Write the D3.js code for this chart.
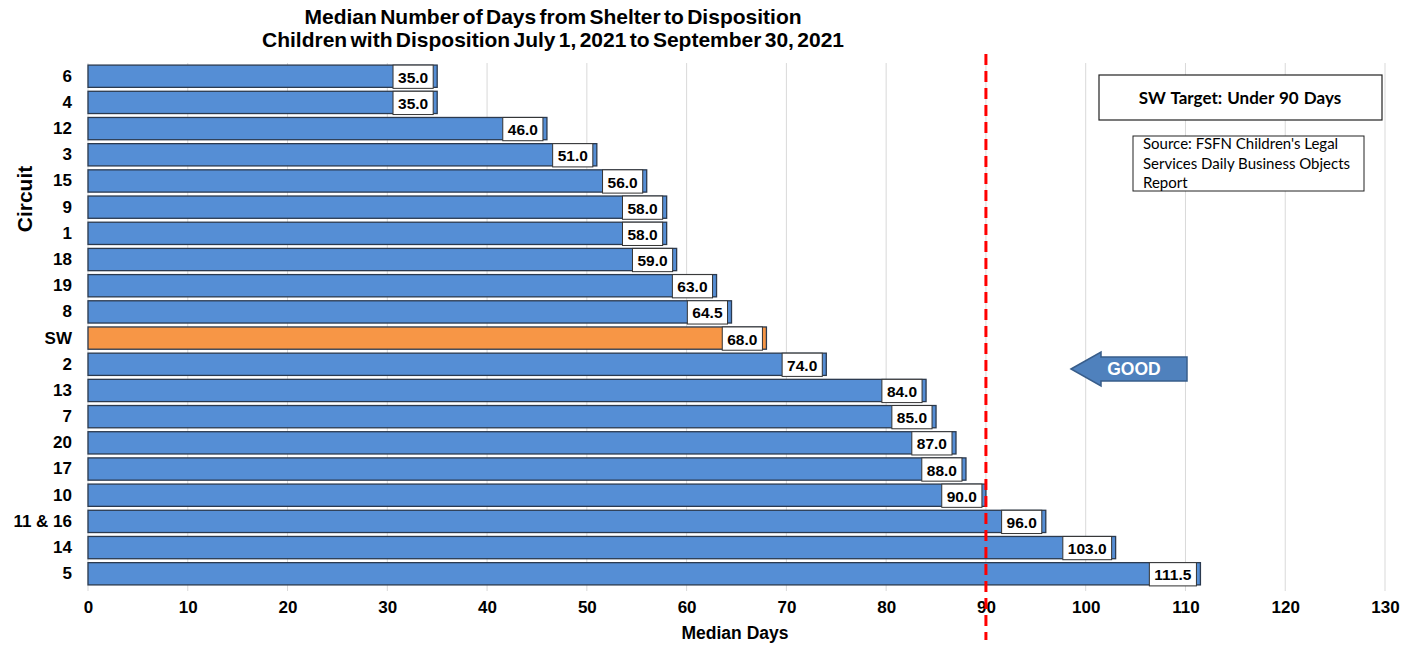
<!DOCTYPE html>
<html>
<head>
<meta charset="utf-8">
<script src="https://cdn.jsdelivr.net/npm/d3@7"></script>
<style>
  body { margin: 0; background: #fff; }
  svg { display: block; }
</style>
</head>
<body>
<svg id="chart" width="1416" height="646"></svg>
<script>
// Circuits, top to bottom, with median days from shelter to disposition
const circuits = ["6", "4", "12", "3", "15", "9", "1", "18", "19", "8", "SW", "2", "13", "7", "20", "17", "10", "11 & 16", "14", "5"];
const medianDays = [35.0, 35.0, 46.0, 51.0, 56.0, 58.0, 58.0, 59.0, 63.0, 64.5, 68.0, 74.0, 84.0, 85.0, 87.0, 88.0, 90.0, 96.0, 103.0, 111.5];
const xTicks = [0, 10, 20, 30, 40, 50, 60, 70, 80, 90, 100, 110, 120, 130];
const targetDays = 90;
const statewide = "SW";

const svg = d3.select("#chart");
const margin = { left: 88, right: 31, top: 63, bottom: 59 };
const W = 1416, H = 646;

const x = d3.scaleLinear().domain([0, 130]).range([margin.left, W - margin.right]);
const y = d3.scaleBand().domain(circuits).range([margin.top, H - margin.bottom]).paddingInner(0.15).paddingOuter(0.08);

const font = "'Liberation Sans', Arial, sans-serif";

// vertical gridlines
svg.append("g").selectAll("line").data(xTicks).join("line")
  .attr("x1", d => x(d)).attr("x2", d => x(d))
  .attr("y1", margin.top).attr("y2", H - margin.bottom + 4)
  .attr("stroke", "#d9d9d9").attr("stroke-width", 1);

// x axis tick labels
const xAxis = d3.axisBottom(x).tickValues(xTicks).tickSize(0).tickPadding(14).tickFormat(d3.format("d"));
svg.append("g").attr("transform", `translate(0,${H - margin.bottom})`).call(xAxis)
  .call(g => g.select(".domain").remove())
  .call(g => g.selectAll("text").attr("font-family", font).attr("font-weight", "bold").attr("font-size", 17).attr("fill", "#000"));

// y axis category labels
const yAxis = d3.axisLeft(y).tickSize(0).tickPadding(16);
svg.append("g").attr("transform", `translate(${margin.left},0)`).call(yAxis)
  .call(g => g.select(".domain").remove())
  .call(g => g.selectAll("text").attr("font-family", font).attr("font-weight", "bold").attr("font-size", 17).attr("fill", "#000"));

// bars
const rows = circuits.map((c, i) => ({ c, v: medianDays[i] }));
svg.append("g").selectAll("rect").data(rows).join("rect")
  .attr("x", x(0)).attr("y", d => y(d.c))
  .attr("width", d => x(d.v) - x(0)).attr("height", y.bandwidth())
  .attr("fill", d => d.c === statewide ? "#f79646" : "#558ed5")
  .attr("stroke", "#2b3a4f").attr("stroke-width", 1.3);

// value labels in white boxes at bar ends
const lbl = svg.append("g").selectAll("g").data(rows).join("g");
lbl.each(function (d) {
  const g = d3.select(this);
  const txt = d.v.toFixed(1);
  const t = g.append("text").attr("text-anchor", "middle").attr("font-family", font).attr("font-weight", "bold")
    .attr("font-size", 15.5).attr("fill", "#000").text(txt);
  const tw = t.node().getComputedTextLength();
  const bw = tw + 10;
  const bh = y.bandwidth() + 1;
  const right = x(d.v) - 4;
  const cy = y(d.c) + y.bandwidth() / 2;
  g.insert("rect", "text").attr("x", right - bw).attr("y", cy - bh / 2 + 0.5).attr("width", bw).attr("height", bh)
    .attr("fill", "#fff").attr("stroke", "#333").attr("stroke-width", 1);
  t.attr("x", right - bw / 2).attr("y", cy + 1).attr("dy", "0.36em");
});

// target line
svg.append("line")
  .attr("x1", x(targetDays)).attr("x2", x(targetDays))
  .attr("y1", 54).attr("y2", 640)
  .attr("stroke", "#ff0000").attr("stroke-width", 3).attr("stroke-dasharray", "11,6");

// title
const title = svg.append("text").attr("text-anchor", "middle").attr("font-family", font)
  .attr("font-weight", "bold").attr("font-size", 21).attr("word-spacing", -2.5).attr("fill", "#000");
title.append("tspan").attr("x", 553).attr("y", 24).text("Median Number of Days from Shelter to Disposition");
title.append("tspan").attr("x", 553).attr("y", 47).text("Children with Disposition July 1, 2021 to September 30, 2021");

// axis titles
svg.append("text").attr("x", 735).attr("y", 639).attr("text-anchor", "middle")
  .attr("font-family", font).attr("font-weight", "bold").attr("font-size", 17.5).text("Median Days");
svg.append("text").attr("transform", "translate(32,199) rotate(-90)").attr("text-anchor", "middle")
  .attr("font-family", font).attr("font-weight", "bold").attr("font-size", 21).text("Circuit");

// target note
svg.append("rect").attr("x", 1099).attr("y", 75).attr("width", 283).attr("height", 45)
  .attr("fill", "#fff").attr("stroke", "#222").attr("stroke-width", 1.2);
svg.append("text").attr("x", 1240).attr("y", 98).attr("dy", "0.35em").attr("text-anchor", "middle")
  .attr("font-family", "Lato, 'Open Sans', sans-serif").attr("font-weight", "bold").attr("font-size", 17)
  .attr("word-spacing", 1).text("SW  Target: Under 90 Days");

// source note
svg.append("rect").attr("x", 1133).attr("y", 136).attr("width", 231).attr("height", 55)
  .attr("fill", "#fff").attr("stroke", "#222").attr("stroke-width", 1);
const src = svg.append("text").attr("font-family", "Lato, 'Open Sans', sans-serif").attr("font-size", 15).attr("fill", "#000");
["Source: FSFN Children's Legal", "Services Daily Business Objects", "Report"].forEach((s, i) => {
  src.append("tspan").attr("x", 1143).attr("y", 149 + i * 19.5).text(s);
});

// GOOD arrow
const ay = 369;
svg.append("path")
  .attr("d", `M1071,${ay} L1101,${ay - 17} L1101,${ay - 12} L1187,${ay - 12} L1187,${ay + 12} L1101,${ay + 12} L1101,${ay + 17} Z`)
  .attr("fill", "#4f81bd").attr("stroke", "#385d8a").attr("stroke-width", 1.5);
svg.append("text").attr("x", 1134).attr("y", ay).attr("dy", "0.36em").attr("text-anchor", "middle")
  .attr("font-family", font).attr("font-weight", "bold").attr("font-size", 17.5).attr("fill", "#fff").text("GOOD");
</script>
</body>
</html>
